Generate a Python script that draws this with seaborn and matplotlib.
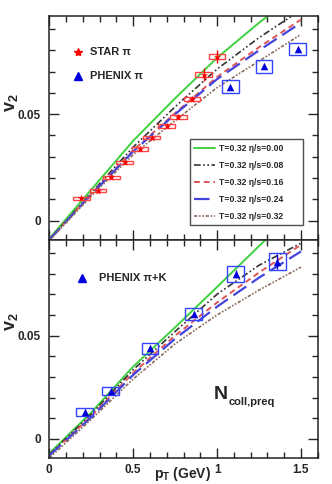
import numpy as np
import pandas as pd
import matplotlib
matplotlib.use("Agg")
import matplotlib.pyplot as plt
from matplotlib.patches import Rectangle
from matplotlib.lines import Line2D
from matplotlib.ticker import MultipleLocator
import seaborn as sns

# ----- data ----- #

# model curves, sampled at these pT values
pt_grid = [0.0, 0.25, 0.5, 0.75, 1.0, 1.25, 1.5]

# top panel (pions)
top_eta000 = [-0.0085, 0.0145, 0.0375, 0.0575, 0.0765, 0.0930, 0.1080]
top_eta008 = [-0.0090, 0.0130, 0.0345, 0.0535, 0.0712, 0.0860, 0.0990]
top_eta016 = [-0.0090, 0.0125, 0.0330, 0.0505, 0.0675, 0.0815, 0.0945]
top_eta024 = [-0.0090, 0.0122, 0.0325, 0.0500, 0.0665, 0.0800, 0.0930]
top_eta032 = [-0.0095, 0.0115, 0.0310, 0.0470, 0.0625, 0.0750, 0.0875]

# bottom panel (pi+K)
bot_eta000 = [-0.0070, 0.0128, 0.0350, 0.0540, 0.0735, 0.0933, 0.1130]
bot_eta008 = [-0.0075, 0.0120, 0.0335, 0.0520, 0.0700, 0.0840, 0.0947]
bot_eta016 = [-0.0080, 0.0110, 0.0320, 0.0500, 0.0660, 0.0805, 0.0939]
bot_eta024 = [-0.0080, 0.0105, 0.0310, 0.0485, 0.0640, 0.0780, 0.0907]
bot_eta032 = [-0.0092, 0.0095, 0.0290, 0.0460, 0.0600, 0.0720, 0.0831]

eta_labels = ["T=0.32 η/s=0.00", "T=0.32 η/s=0.08", "T=0.32 η/s=0.16",
              "T=0.32 η/s=0.24", "T=0.32 η/s=0.32"]

# STAR pi
star_pt = [0.19, 0.29, 0.37, 0.45, 0.54, 0.61, 0.70, 0.77, 0.85, 0.92, 1.00]
star_v2 = [0.0104, 0.0141, 0.0203, 0.0273, 0.0336, 0.0390, 0.0445, 0.0487, 0.0573, 0.0685, 0.0770]
star_err = [0.0004, 0.0004, 0.0005, 0.0005, 0.0006, 0.0006, 0.0007, 0.0008, 0.0010, 0.0030, 0.0030]
star_sys = [0.0008, 0.0008, 0.0008, 0.0008, 0.0008, 0.0008, 0.0009, 0.0009, 0.0010, 0.0012, 0.0012]

# PHENIX pi
phx_pt = [1.08, 1.28, 1.48]
phx_v2 = [0.0629, 0.0726, 0.0807]
phx_sys = [0.0030, 0.0030, 0.0030]

# PHENIX pi+K
pk_pt = [0.21, 0.365, 0.60, 0.86, 1.11, 1.36]
pk_v2 = [0.0132, 0.0232, 0.0439, 0.0604, 0.0797, 0.0858]
pk_err = [0.0003, 0.0004, 0.0006, 0.0010, 0.0020, 0.0037]
pk_sys = [0.0020, 0.0020, 0.0026, 0.0029, 0.0040, 0.0043]

box_half_width = 0.05

# ----- styling ----- #
sns.set_style("ticks")
plt.rcParams['font.family'] = ['Liberation Sans', 'DejaVu Sans']
plt.rcParams['font.weight'] = 'bold'
plt.rcParams['mathtext.fontset'] = 'custom'
plt.rcParams['mathtext.rm'] = 'Liberation Sans:bold'
plt.rcParams['mathtext.it'] = 'Liberation Sans:bold'
plt.rcParams['mathtext.bf'] = 'Liberation Sans:bold'

line_styles = [
    dict(color='#3fd13f', linestyle='-', lw=1.4),
    dict(color='#333333', linestyle=(0, (4, 1.5, 1, 1.5, 1, 1.5)), lw=1.2),
    dict(color='#dd5555', linestyle=(0, (3, 2)), lw=1.4),
    dict(color='#4444dd', linestyle=(0, (7, 3)), lw=1.6),
    dict(color='#8b6b5b', linestyle=(0, (2, 1, 1, 1, 1, 1)), lw=1.2),
]

fig = plt.figure(figsize=(3.32, 4.84), dpi=100)
ax1 = fig.add_axes([0.1485, 0.504, 0.8085, 0.463])
ax2 = fig.add_axes([0.1485, 0.0537, 0.8085, 0.4503])


def draw_curves(ax, curves):
    for vals, st in zip(curves, line_styles):
        df = pd.DataFrame({'pT': pt_grid, 'v2': vals})
        sns.lineplot(data=df, x='pT', y='v2', ax=ax, sort=False, **st)


def draw_boxes(ax, xs, ys, hs, color):
    for x, y, h in zip(xs, ys, hs):
        ax.add_patch(Rectangle((x - box_half_width, y - h), 2 * box_half_width, 2 * h,
                               fill=False, edgecolor=color, lw=1.0, zorder=4))


def style_axis(ax, show_xlabels):
    ax.set_xlim(0, 1.6)
    ax.set_ylim(-0.0092, 0.0962)
    ax.xaxis.set_major_locator(MultipleLocator(0.5))
    ax.xaxis.set_minor_locator(MultipleLocator(0.1))
    ax.yaxis.set_major_locator(MultipleLocator(0.05))
    ax.yaxis.set_minor_locator(MultipleLocator(0.01))
    ax.tick_params(which='both', direction='in', top=True, right=True, labelsize=8.5, width=1)
    ax.tick_params(which='major', length=7)
    ax.tick_params(which='minor', length=4)
    ax.tick_params(axis='y', which='major', pad=6)
    ax.tick_params(axis='x', which='major', pad=4)
    ax.set_xticks([0, 0.5, 1, 1.5])
    ax.set_xticklabels(['0', '0.5', '1', '1.5'])
    ax.set_yticks([0, 0.05])
    ax.set_yticklabels(['0', '0.05'])
    if not show_xlabels:
        ax.set_xticklabels([])
    for lab in ax.get_xticklabels() + ax.get_yticklabels():
        lab.set_fontweight('bold')
    ax.set_xlabel('')
    ax.set_ylabel('')
    for sp in ax.spines.values():
        sp.set_linewidth(1.1)
        sp.set_color('#222222')


# ----- top panel ----- #
draw_curves(ax1, [top_eta000, top_eta008, top_eta016, top_eta024, top_eta032])
draw_boxes(ax1, star_pt, star_v2, star_sys, '#ff4444')
ax1.errorbar(star_pt, star_v2, yerr=star_err, fmt='none', ecolor='red', elinewidth=1, zorder=5)
sns.scatterplot(x=star_pt, y=star_v2, ax=ax1, marker='*', color='red', s=30,
                edgecolor='red', linewidth=0, zorder=6)
draw_boxes(ax1, phx_pt, phx_v2, phx_sys, '#3344ff')
sns.scatterplot(x=phx_pt, y=phx_v2, ax=ax1, marker='^', color='#0000dd', s=30,
                edgecolor='#0000dd', linewidth=0, zorder=6)

ax1.plot([0.107], [0.839], marker='*', color='red', ms=6, ls='none', transform=ax1.transAxes)
ax1.text(0.152, 0.839, 'STAR π', transform=ax1.transAxes, fontsize=8, va='center')
ax1.plot([0.107], [0.732], marker='^', color='#0000dd', ms=5.5, ls='none', transform=ax1.transAxes)
ax1.text(0.152, 0.732, 'PHENIX π', transform=ax1.transAxes, fontsize=8, va='center')

handles = [Line2D([], [], **st) for st in line_styles]
leg = ax1.legend(handles, eta_labels, loc='lower left', bbox_to_anchor=(0.524, 0.067, 0.421, 0.37),
                 mode='expand', fontsize=6.2, frameon=True, fancybox=False, edgecolor='#222222',
                 handlelength=2.4, labelspacing=0.93, borderpad=0.5, handletextpad=0.5,
                 borderaxespad=0)
leg.get_frame().set_linewidth(1.0)
style_axis(ax1, False)

# ----- bottom panel ----- #
draw_curves(ax2, [bot_eta000, bot_eta008, bot_eta016, bot_eta024, bot_eta032])
draw_boxes(ax2, pk_pt, pk_v2, pk_sys, '#3344ff')
ax2.errorbar(pk_pt, pk_v2, yerr=pk_err, fmt='none', ecolor='#0000dd', elinewidth=1, zorder=5)
sns.scatterplot(x=pk_pt, y=pk_v2, ax=ax2, marker='^', color='#0000dd', s=30,
                edgecolor='#0000dd', linewidth=0, zorder=6)
ax2.plot([0.122], [0.826], marker='^', color='#0000dd', ms=5.5, ls='none', transform=ax2.transAxes)
ax2.text(0.185, 0.826, 'PHENIX π+K', transform=ax2.transAxes, fontsize=8, va='center')
ax2.text(0.612, 0.29, 'N', transform=ax2.transAxes, fontsize=14, va='center')
ax2.text(0.668, 0.255, 'coll,preq', transform=ax2.transAxes, fontsize=8, va='center')
style_axis(ax2, True)

# axis titles
fig.text(0.036, 0.787, r'$\mathregular{v_2}$', rotation=90, fontsize=13, ha='center', va='center')
fig.text(0.036, 0.335, r'$\mathregular{v_2}$', rotation=90, fontsize=13, ha='center', va='center')
fig.text(0.55, 0.02, r'$\mathregular{p_T}$ (GeV)', fontsize=10, ha='center', va='center')

fig.savefig('out.png', dpi=100)
